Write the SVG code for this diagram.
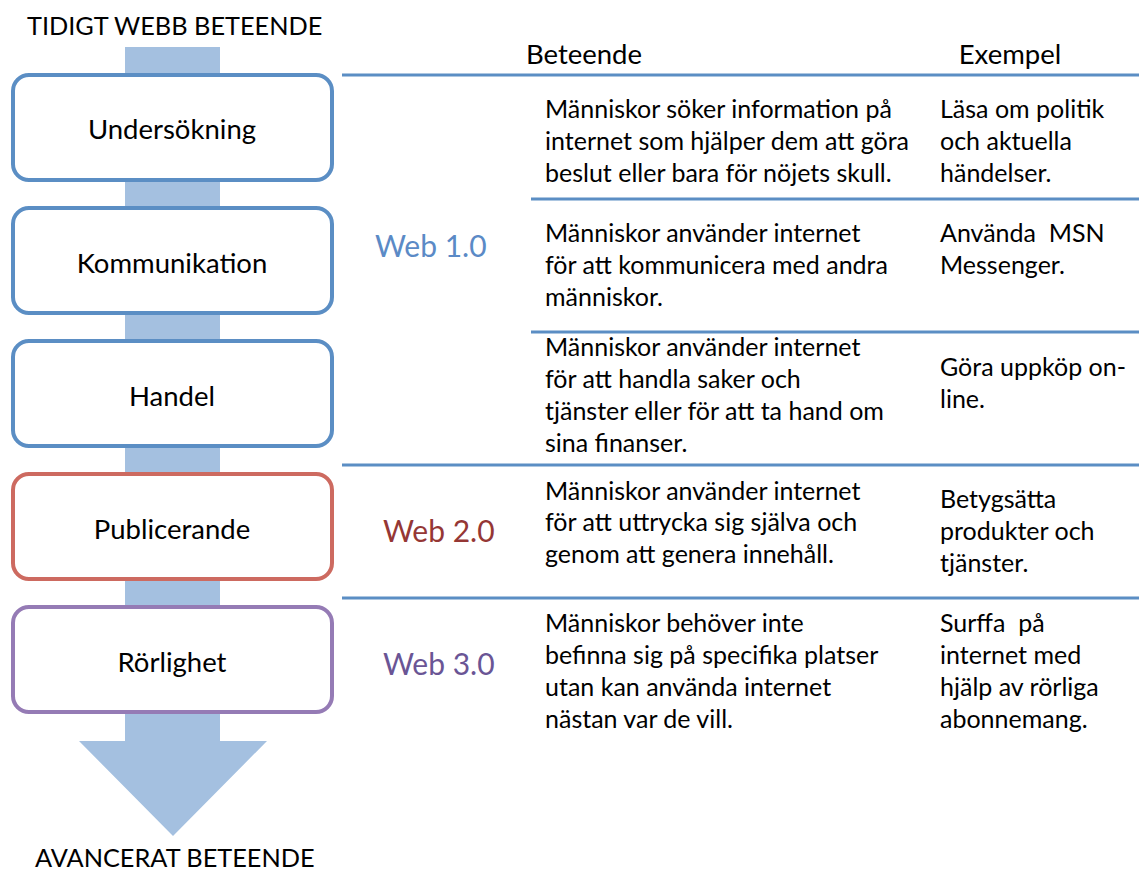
<svg xmlns="http://www.w3.org/2000/svg" width="1139" height="872" viewBox="0 0 1139 872">
<style>
text{font-family:Lato,"Noto Sans","Liberation Sans",sans-serif;fill:#000;white-space:pre;}
.t{font-size:25px;}
.lbl{font-size:27.5px;text-anchor:middle;}
.hd{font-size:27.5px;text-anchor:middle;}
.cap{font-size:25.3px;}
.web{font-size:30px;}
.box{fill:#fff;stroke-width:4;}
.rule{stroke:#5b8ec4;stroke-width:3;fill:none;}
</style>
<g id="arrow">
<polygon points="125,47 220,47 220,741 267,741 173,836 79,741 125,741" fill="#a4c0e0"/>
</g>
<text class="cap" x="27" y="35">TIDIGT WEBB BETEENDE</text>
<text class="cap" x="35" y="867">AVANCERAT BETEENDE</text>
<g id="connectors">
<line class="rule" x1="342" y1="75" x2="1139" y2="75"/>
<line class="rule" x1="531" y1="199" x2="1139" y2="199"/>
<line class="rule" x1="531" y1="332" x2="1139" y2="332"/>
<line class="rule" x1="342" y1="465" x2="1139" y2="465"/>
<line class="rule" x1="342" y1="598" x2="1139" y2="598"/>
</g>
<g id="n1"><rect class="box" x="13" y="75" width="319" height="105" rx="16" stroke="#5b8ec4"/><text class="lbl" x="172" y="139">Undersökning</text></g>
<g id="n2"><rect class="box" x="13" y="208" width="319" height="105" rx="16" stroke="#5b8ec4"/><text class="lbl" x="172" y="273">Kommunikation</text></g>
<g id="n3"><rect class="box" x="13" y="341" width="319" height="105" rx="16" stroke="#5b8ec4"/><text class="lbl" x="172" y="406">Handel</text></g>
<g id="n4"><rect class="box" x="13" y="474" width="319" height="105" rx="16" stroke="#cd6a60"/><text class="lbl" x="172" y="539">Publicerande</text></g>
<g id="n5"><rect class="box" x="13" y="607" width="319" height="105" rx="16" stroke="#957bb5"/><text class="lbl" x="172" y="672">Rörlighet</text></g>
<g id="headers">
<text class="hd" x="584" y="64">Beteende</text>
<text class="hd" x="1010" y="64">Exempel</text>
</g>
<g id="webs">
<text class="web" x="375" y="257" style="fill:#5b8ac6">Web 1.0</text>
<text class="web" x="383" y="542" style="fill:#953735">Web 2.0</text>
<text class="web" x="383" y="675" style="fill:#6a5595">Web 3.0</text>
</g>
<g id="row1">
<text class="t" x="545" y="118">Människor söker information på</text>
<text class="t" x="545" y="150">internet som hjälper dem att göra</text>
<text class="t" x="545" y="182">beslut eller bara för nöjets skull.</text>
<text class="t" x="940" y="118">Läsa om politik</text>
<text class="t" x="940" y="150">och aktuella</text>
<text class="t" x="940" y="182">händelser.</text>
</g>
<g id="row2">
<text class="t" x="545" y="242">Människor använder internet</text>
<text class="t" x="545" y="274">för att kommunicera med andra</text>
<text class="t" x="545" y="306">människor.</text>
<text class="t" x="940" y="242">Använda  MSN</text>
<text class="t" x="940" y="274">Messenger.</text>
</g>
<g id="row3">
<text class="t" x="545" y="356">Människor använder internet</text>
<text class="t" x="545" y="388">för att handla saker och</text>
<text class="t" x="545" y="420">tjänster eller för att ta hand om</text>
<text class="t" x="545" y="452">sina finanser.</text>
<text class="t" x="940" y="376">Göra uppköp on-</text>
<text class="t" x="940" y="408">line.</text>
</g>
<g id="row4">
<text class="t" x="545" y="500">Människor använder internet</text>
<text class="t" x="545" y="531">för att uttrycka sig själva och</text>
<text class="t" x="545" y="563">genom att genera innehåll.</text>
<text class="t" x="940" y="508">Betygsätta</text>
<text class="t" x="940" y="540">produkter och</text>
<text class="t" x="940" y="572">tjänster.</text>
</g>
<g id="row5">
<text class="t" x="545" y="632">Människor behöver inte</text>
<text class="t" x="545" y="664">befinna sig på specifika platser</text>
<text class="t" x="545" y="696">utan kan använda internet</text>
<text class="t" x="545" y="728">nästan var de vill.</text>
<text class="t" x="940" y="632">Surffa  på</text>
<text class="t" x="940" y="664">internet med</text>
<text class="t" x="940" y="696">hjälp av rörliga</text>
<text class="t" x="940" y="728">abonnemang.</text>
</g>
</svg>
